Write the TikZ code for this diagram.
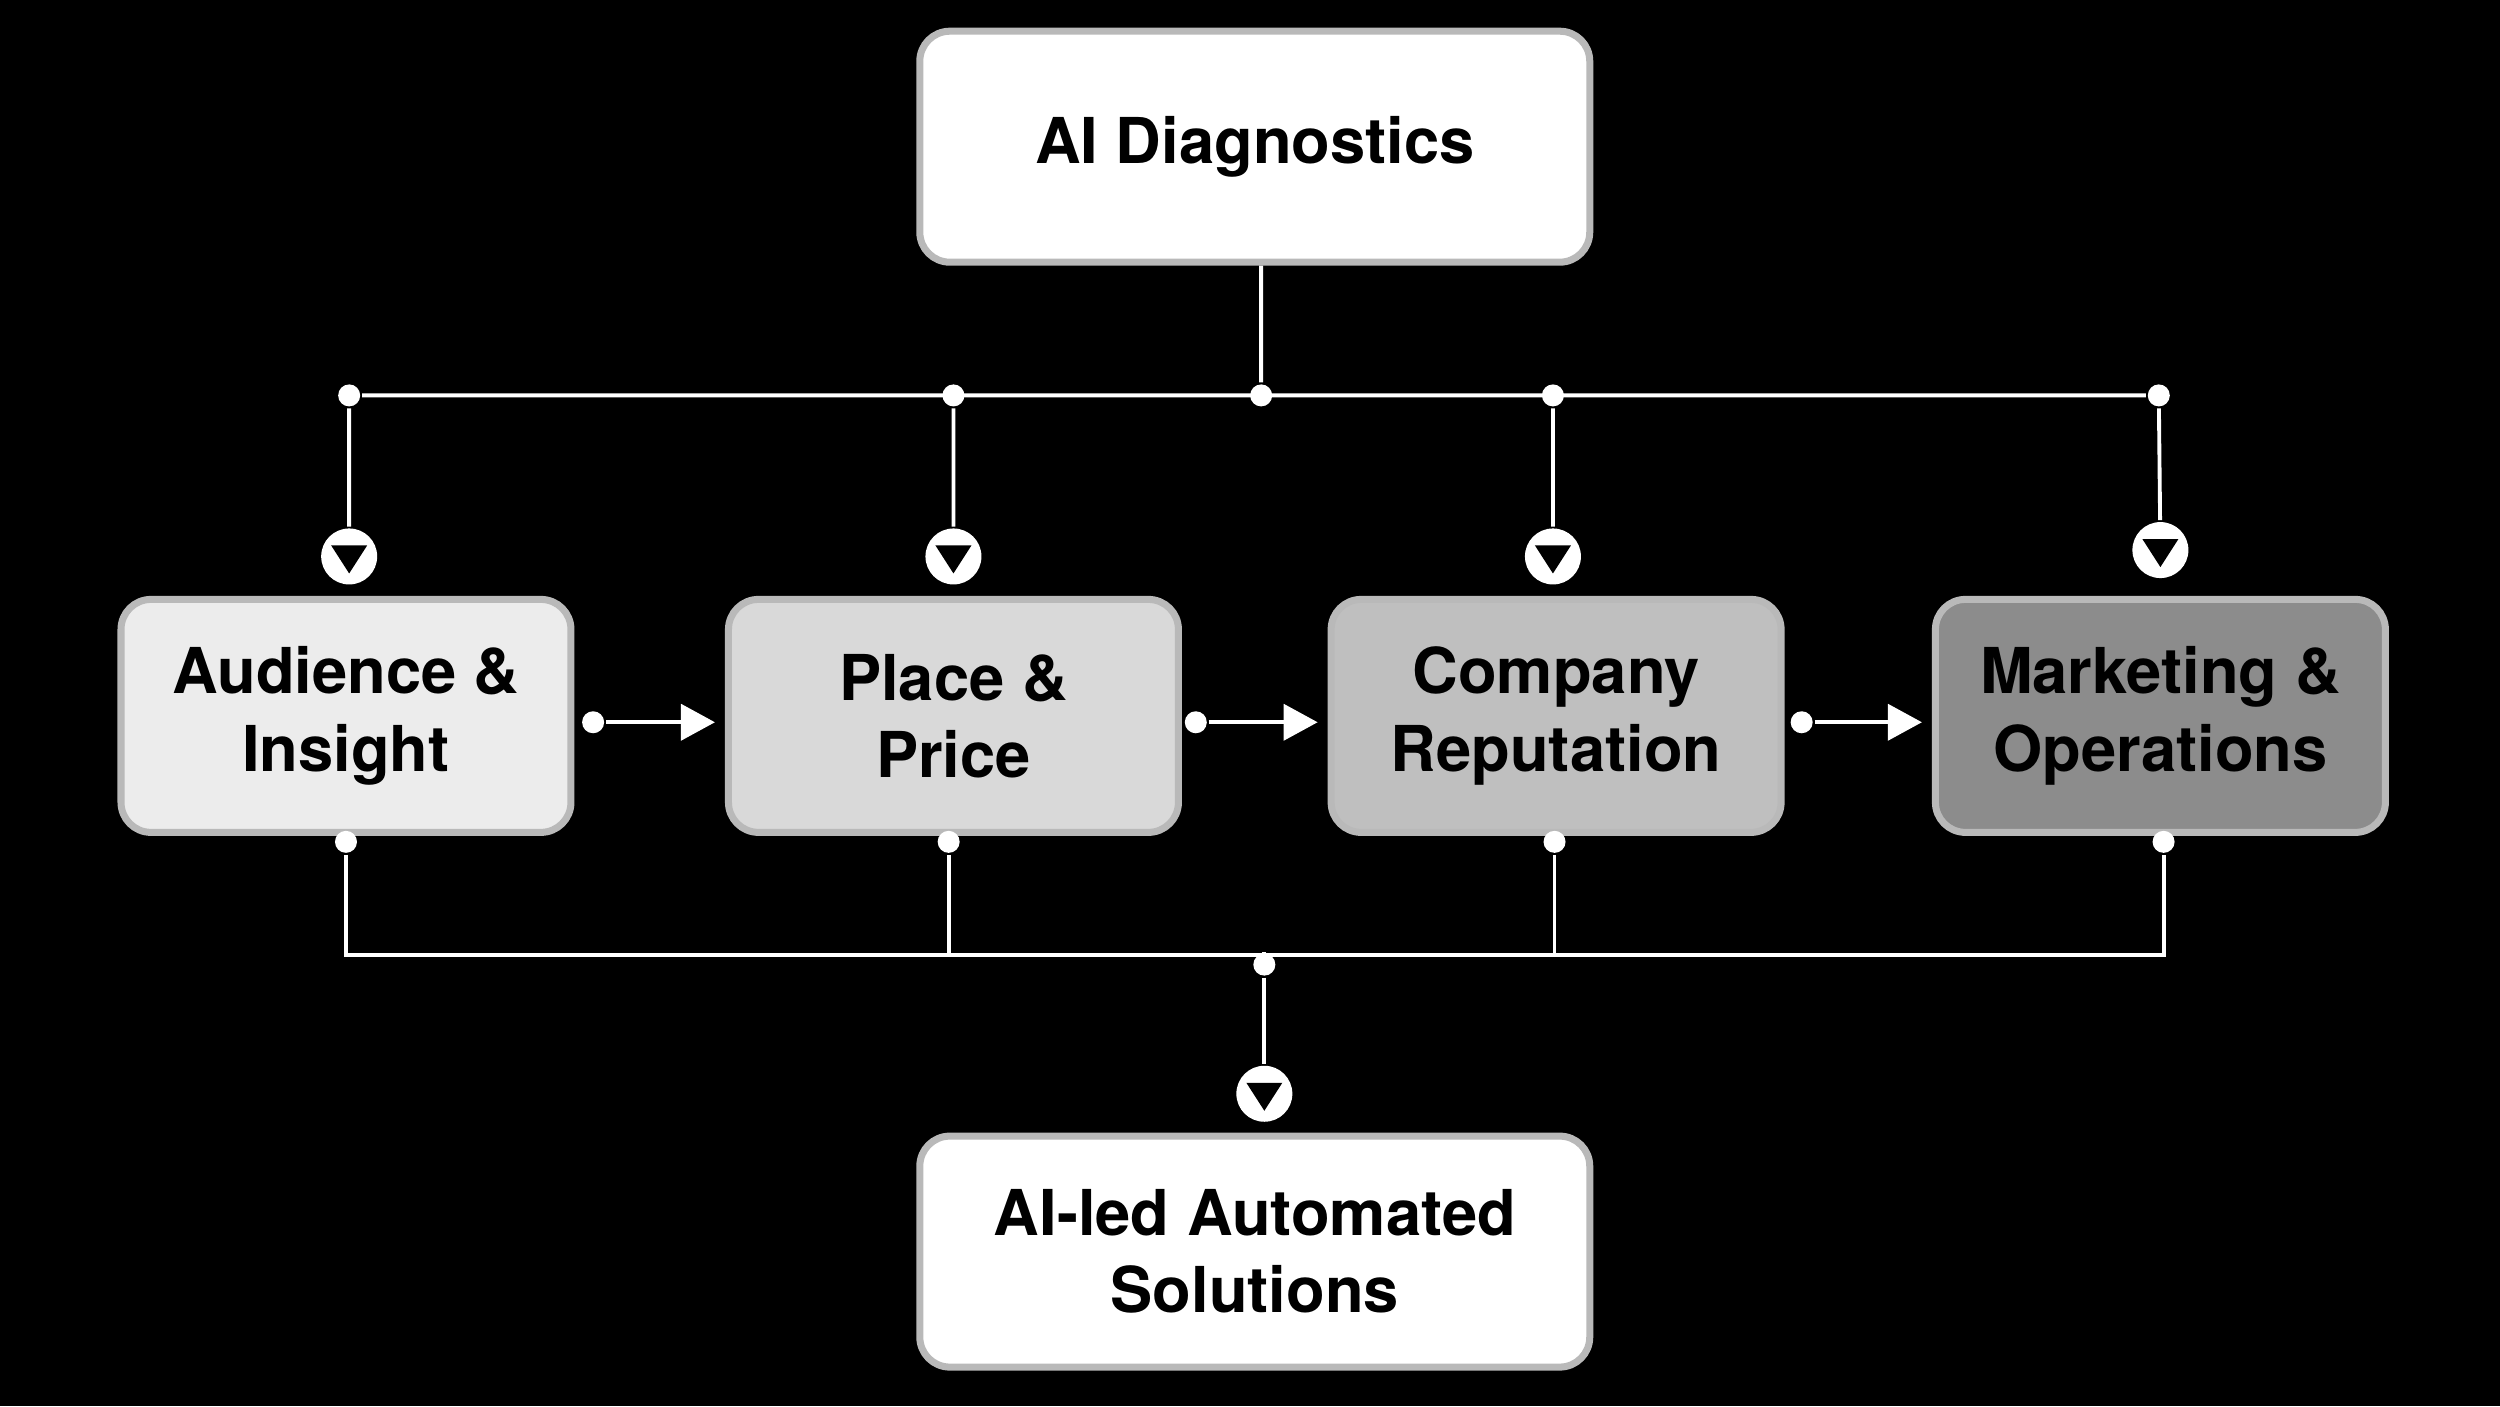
\documentclass[tikz,border=0pt]{standalone}
\usepackage{fontspec}
\setmainfont{TeX Gyre Heros}
\usetikzlibrary{positioning,arrows.meta}

\begin{document}
\begin{tikzpicture}[x=0.01594cm,y=-0.01594cm,>={Triangle[width=3.6mm,length=3.4mm]},line width=1.1pt]
  \tikzstyle{box}=[draw=gray!55,line width=2pt,rounded corners=3mm,align=center,
    minimum width=4.5cm,minimum height=2.33cm,font=\fontsize{18}{22}\selectfont\bfseries,text=black]
  \tikzstyle{wide}=[box,minimum width=6.7cm,minimum height=2.31cm,fill=white]
  \tikzstyle{dot}=[circle,fill=white,inner sep=0pt,minimum size=2.2mm]
  \tikzstyle{drop}=[circle,fill=white,inner sep=0pt,minimum size=5.6mm,
    path picture={\fill[black] ([xshift=-1.8mm,yshift=1.1mm]path picture bounding box.center)
      -- ++(3.6mm,0) -- ([yshift=-1.7mm]path picture bounding box.center) -- cycle;}]
  \tikzstyle{wire}=[draw=white]

  \useasboundingbox (0,0) rectangle (1568,882);
  \fill[black] (0,0) rectangle (1568,882);

  % Boxes
  \node[wide] (diag) at (787,92) {AI Diagnostics};
  \node[box,fill=gray!15] (aud) at (217,449) {Audience \&\\Insight};
  \node[box,fill=gray!30] (place) at (598,449) {Place \&\\Price};
  \node[box,fill=gray!50] (comp) at (976,449) {Company\\Reputation};
  \node[box,fill=gray!90] (mark) at (1355,449) {Marketing \&\\Operations};
  \node[wide] (sol) at (787,785) {AI-led Automated\\Solutions};

  % Top bus
  \node[dot] (j0) at (791,248) {};
  \node[dot] (j1) at (219,248) {};
  \node[dot] (j2) at (598,248) {};
  \node[dot] (j3) at (974,248) {};
  \node[dot] (j4) at (1354,248) {};
  \node[drop] (m1) at (219,349) {};
  \node[drop] (m2) at (598,349) {};
  \node[drop] (m3) at (974,349) {};
  \node[drop] (m4) at (1355,345) {};
  \path[wire] (diag.south -| j0) -- (j0)
    (j1) -- (j4)
    (j1) -- (m1) (j2) -- (m2) (j3) -- (m3) (j4) -- (m4);

  % Flow between boxes
  \node[dot] (h1) at (372,453) {};
  \node[dot] (h2) at (750,453) {};
  \node[dot] (h3) at (1130,453) {};
  \draw[white,->,shorten >=1mm] (h1) -- (h1 -| place.west);
  \draw[white,->,shorten >=1mm] (h2) -- (h2 -| comp.west);
  \draw[white,->,shorten >=1mm] (h3) -- (h3 -| mark.west);

  % Bottom bus
  \node[dot] (b1) at (217,528) {};
  \node[dot] (b2) at (595,528) {};
  \node[dot] (b3) at (975,528) {};
  \node[dot] (b4) at (1357,528) {};
  \coordinate (busL) at (217,599);
  \coordinate (busR) at (1357,599);
  \node[dot] (c0) at (793,605) {};
  \node[drop] (m5) at (793,686) {};
  \path[wire] (b1) |- (busR) -- (b4)
    (b2) -- (b2 |- busL) (b3) -- (b3 |- busL)
    (c0 |- busL) -- (c0) -- (m5);
\end{tikzpicture}
\end{document}
